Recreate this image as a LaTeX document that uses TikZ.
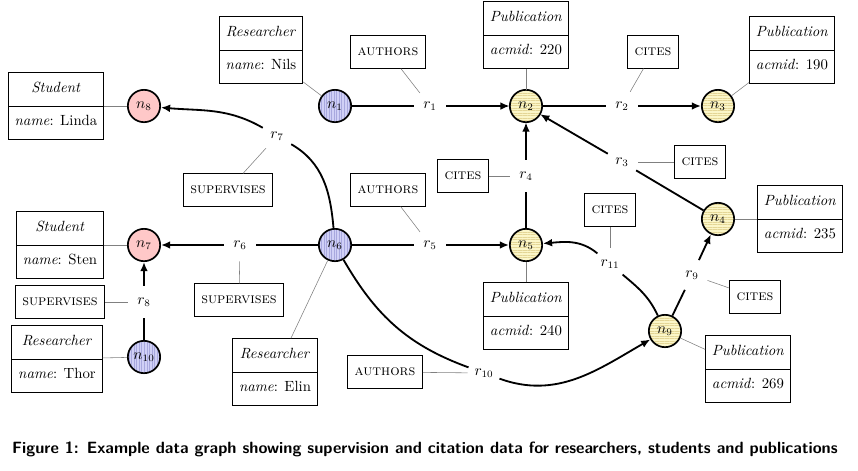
\documentclass[tikz,border=0pt]{standalone}
\usepackage{tikz}
\usepackage{xcolor}
\usetikzlibrary{shapes,arrows.meta,positioning,patterns.meta}

\definecolor{studpink}{RGB}{255,200,200}
\definecolor{resblue}{RGB}{208,208,246}
\definecolor{resstripe}{RGB}{168,168,222}
\definecolor{pubyellow}{RGB}{251,246,200}
\definecolor{pubstripe}{RGB}{228,214,150}

\tikzset{
  gnode/.style={circle, draw, line width=1.2pt, minimum size=23pt, inner sep=0pt, font=\fontsize{10.5}{12}\selectfont},
  student/.style={gnode, fill=studpink},
  researcher/.style={gnode, preaction={fill=resblue}, pattern={Lines[angle=90,distance=1.8pt,line width=0.35pt]}, pattern color=resstripe},
  publication/.style={gnode, preaction={fill=pubyellow}, pattern={Lines[angle=0,distance=1.8pt,line width=0.35pt]}, pattern color=pubstripe},
  props/.style={rectangle split, rectangle split parts=2, draw, line width=0.6pt, inner xsep=4.5pt, inner ysep=5.5pt, font=\fontsize{10.5}{12}\selectfont},
  etype/.style={draw, line width=0.6pt, minimum height=23pt, inner xsep=5pt, font=\fontsize{10.5}{12}\selectfont\scshape},
  rlab/.style={circle, inner sep=0pt, minimum size=23pt, font=\fontsize{10.5}{12}\selectfont},
  rel/.style={line width=1.8pt},
  relcurve/.style={line width=1.3pt},
  arr/.style={-{Latex[length=6.5pt,width=5.5pt]}},
  tie/.style={draw=gray, line width=0.4pt}
}

\begin{document}
\begin{tikzpicture}[x=0.025cm, y=-0.025cm]
\useasboundingbox (0,0) rectangle (858,470);

% graph nodes
\node[researcher] (n1) at (335,106) {$n_1$};
\node[publication] (n2) at (526,106) {$n_2$};
\node[publication] (n3) at (718,106) {$n_3$};
\node[publication] (n4) at (718,219) {$n_4$};
\node[publication] (n5) at (526,245) {$n_5$};
\node[researcher] (n6) at (335,245) {$n_6$};
\node[student] (n7) at (144,245) {$n_7$};
\node[student] (n8) at (144,106) {$n_8$};
\node[publication] (n9) at (665,331) {$n_9$};
\node[researcher] (n10) at (144,357) {$n_{10}$};

% property boxes
\node[props] (p1) at (261,50) {\strut\textit{Researcher}\nodepart{two}\strut\textit{name}: Nils};
\node[props] (p2) at (526,35) {\strut\textit{Publication}\nodepart{two}\strut\textit{acmid}: 220};
\node[props] (p3) at (792,50) {\strut\textit{Publication}\nodepart{two}\strut\textit{acmid}: 190};
\node[props] (p4) at (800,219) {\strut\textit{Publication}\nodepart{two}\strut\textit{acmid}: 235};
\node[props] (p5) at (526,316) {\strut\textit{Publication}\nodepart{two}\strut\textit{acmid}: 240};
\node[props] (p6) at (275,372) {\strut\textit{Researcher}\nodepart{two}\strut\textit{name}: Elin};
\node[props] (p7) at (60,245) {\strut\textit{Student}\nodepart{two}\strut\textit{name}: Sten};
\node[props] (p8) at (56,106) {\strut\textit{Student}\nodepart{two}\strut\textit{name}: Linda};
\node[props] (p9) at (748,369) {\strut\textit{Publication}\nodepart{two}\strut\textit{acmid}: 269};
\node[props] (p10) at (57,359) {\strut\textit{Researcher}\nodepart{two}\strut\textit{name}: Thor};

% relationship labels
\node[rlab] (r1) at (430,106) {$r_1$};
\node[rlab] (r2) at (622,106) {$r_2$};
\node[rlab] (r3) at (622,162) {$r_3$};
\node[rlab] (r4) at (526,176) {$r_4$};
\node[rlab] (r5) at (430,245) {$r_5$};
\node[rlab] (r6) at (240,245) {$r_6$};
\node[rlab] (r7) at (277,136) {$r_7$};
\node[rlab] (r8) at (144,302) {$r_8$};
\node[rlab] (r9) at (692,275) {$r_9$};
\node[rlab] (r10) at (484,373) {$r_{10}$};
\node[rlab] (r11) at (610,264) {$r_{11}$};

% relationship types
\node[etype] (t1) at (388,52) {authors};
\node[etype] (t2) at (653,52) {cites};
\node[etype] (t3) at (700,162) {cites};
\node[etype] (t4) at (463,176) {cites};
\node[etype] (t5) at (388,190) {authors};
\node[etype] (t6) at (239,300) {supervises};
\node[etype] (t7) at (228,190) {supervises};
\node[etype] (t8) at (60,302) {supervises};
\node[etype] (t9) at (755,297) {cites};
\node[etype] (t10) at (385,372) {authors};
\node[etype] (t11) at (610,210) {cites};

% edges
\draw[rel] (n1) -- (r1);
\draw[rel,arr] (r1) -- (n2);
\draw[rel] (n2) -- (r2);
\draw[rel,arr] (r2) -- (n3);
\draw[relcurve] (n4) -- (r3);
\draw[relcurve,arr] (r3) -- (n2);
\draw[rel] (n5) -- (r4);
\draw[rel,arr] (r4) -- (n2);
\draw[rel] (n6) -- (r5);
\draw[rel,arr] (r5) -- (n5);
\draw[rel] (n6) -- (r6);
\draw[rel,arr] (r6) -- (n7);
\draw[relcurve] (n6) to[out=95,in=-30] (r7);
\draw[relcurve,arr] (r7) to[out=150,in=-5] (n8);
\draw[rel] (n10) -- (r8);
\draw[rel,arr] (r8) -- (n7);
\draw[relcurve] (n9) -- (r9);
\draw[relcurve,arr] (r9) -- (n4);
\draw[relcurve] (n6) to[out=-60,in=160] (r10);
\draw[relcurve,arr] (r10) to[out=-20,in=-150] (n9);
\draw[relcurve] (n9) to[out=115,in=-40] (r11);
\draw[relcurve,arr] (r11) to[out=140,in=5] (n5);

% type ties
\draw[tie] (t1) -- (r1);
\draw[tie] (t2) -- (r2);
\draw[tie] (t3) -- (r3);
\draw[tie] (t4) -- (r4);
\draw[tie] (t5) -- (r5);
\draw[tie] (t6) -- (r6);
\draw[tie] (t7) -- (r7);
\draw[tie] (t8) -- (r8);
\draw[tie] (t9) -- (r9);
\draw[tie] (t10) -- (r10);
\draw[tie] (t11) -- (r11);

% property ties
\draw[tie] (p1) -- (n1);
\draw[tie] (p2) -- (n2);
\draw[tie] (p3) -- (n3);
\draw[tie] (p4) -- (n4);
\draw[tie] (p5) -- (n5);
\draw[tie] (p6) -- (n6);
\draw[tie] (p7) -- (n7);
\draw[tie] (p8) -- (n8);
\draw[tie] (p9) -- (n9);
\draw[tie] (p10) -- (n10);

% caption
\node[anchor=base, font=\fontsize{11.6}{14}\selectfont\sffamily\bfseries] (cap) at (425,453)
  {Figure 1: Example data graph showing supervision and citation data for researchers, students and publications};
\end{tikzpicture}
\end{document}
